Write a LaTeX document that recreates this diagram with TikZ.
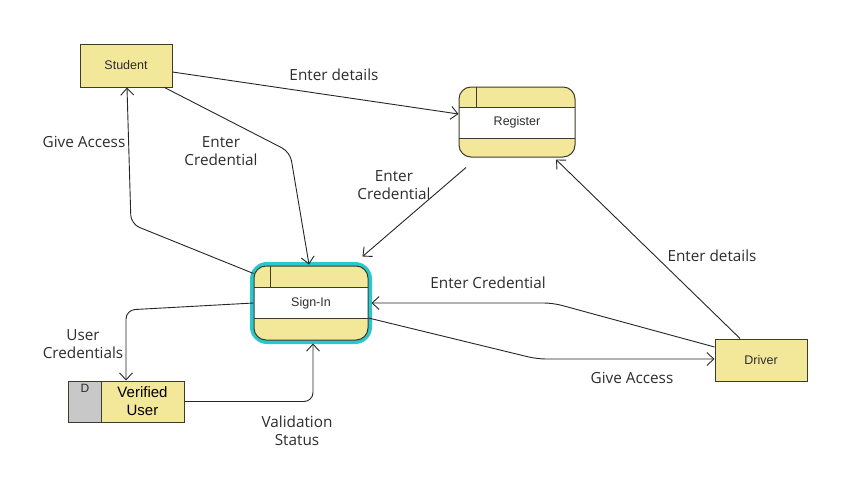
\documentclass[tikz,border=0pt]{standalone}
\usepackage{fontspec}
\setmainfont{Open Sans}
\newfontfamily\arialf{Liberation Sans}
\usetikzlibrary{arrows.meta}
\definecolor{fy}{RGB}{243,231,154}
\definecolor{bd}{RGB}{60,60,45}
\definecolor{cy}{RGB}{40,200,205}
\definecolor{gb}{RGB}{200,200,200}
\definecolor{tx}{RGB}{45,45,45}
\begin{document}
\begin{tikzpicture}[x=1pt,y=-1pt,
 ent/.style={draw=bd, line width=1pt, fill=fy, minimum width=92pt, minimum height=43pt, inner sep=0pt, font=\arialf\fontsize{12.5}{14}\selectfont, text=tx},
 procbox/.style={draw=bd, line width=1pt, rounded corners=12pt, inner sep=0pt, font=\arialf\fontsize{12.5}{14}\selectfont, text=tx},
 flow/.style={draw=black!85, line width=0.9pt, rounded corners=9pt, -{Straight Barb[length=7pt,width=13pt,line width=0.9pt]}},
 lab/.style={font=\fontsize{15.3}{18}\selectfont, text=tx, align=center, inner sep=0pt}]
\useasboundingbox (0,0) rectangle (859,493);
\fill[white] (0,0) rectangle (859,493);

% Student and Driver
\node[ent] (student) at (126,65.5) {Student};
\node[ent, minimum height=42pt] (driver) at (761,360) {Driver};

% Register process
\fill[fy, rounded corners=12pt] (459,87) rectangle (575,157);
\fill[white] (459,107) rectangle (575,138);
\draw[bd, line width=1pt] (459,107) -- (575,107) (459,138) -- (575,138) (476,87) -- (476,107);
\node[procbox, minimum width=116pt, minimum height=70pt] (reg) at (517,122) {Register};

% Sign-In process
\draw[cy, line width=4pt, rounded corners=15pt] (252,264) rectangle (370,342);
\fill[fy, rounded corners=12pt] (254,266) rectangle (368,340);
\fill[white] (254,287) rectangle (368,318);
\draw[bd, line width=1pt] (254,287) -- (368,287) (254,318) -- (368,318) (270,266) -- (270,287);
\node[procbox, minimum width=114pt, minimum height=74pt] (si) at (311,303) {Sign-In};

% Verified User data store
\node[draw=bd, line width=1pt, fill=gb, minimum width=33pt, minimum height=41pt, inner sep=0pt] (vud) at (84.5,401.5) {};
\node[draw=bd, line width=1pt, fill=fy, minimum width=83pt, minimum height=41pt, inner sep=0pt, align=center, font=\arialf\fontsize{15}{18}\selectfont, text=black] (vu) at (142.5,401.5) {Verified\\User};
\node[font=\arialf\fontsize{12}{13}\selectfont, text=tx, inner sep=0pt] (dlab) at (85,388) {D};

% Connectors
\draw[flow] ([yshift=-6.5pt]student.east) -- ([yshift=8pt]reg.west);
\draw[flow] ([xshift=-8pt]student.south east) -- (290,152) -- ([xshift=-2pt,yshift=1pt]si.north);
\draw[flow] ([yshift=-8pt]si.north west) -- (131,224) -- ([xshift=1pt]student.south);
\draw[flow] ([shift={(-51pt,-10pt)}]reg.south) -- ([shift={(-6pt,9pt)}]si.north east);
\draw[flow] ([xshift=-21pt]driver.north) -- ([shift={(39pt,-2pt)}]reg.south);
\draw[flow] ([yshift=13pt]driver.west) -- (553,303) -- ([xshift=3pt]si.east);
\draw[flow] ([yshift=-15pt]si.east) -- (537,359) -- ([yshift=1pt]driver.west);
\draw[flow] (si.west) -- (126,310) -- ([xshift=-16.5pt]vu.north);
\draw[flow] (vu.east) -- (313,401.5) -- ([shift={(2pt,-3pt)}]si.south);

% Labels
\node[lab] (l1) at (334,75) {Enter details};
\node[lab] (l2) at (221,151) {Enter\\Credential};
\node[lab] (l3) at (84,142) {Give Access};
\node[lab] (l4) at (394,185) {Enter\\Credential};
\node[lab] (l5) at (712,256) {Enter details};
\node[lab] (l6) at (488,283) {Enter Credential};
\node[lab] (l7) at (632,378) {Give Access};
\node[lab] (l8) at (83,344) {User\\Credentials};
\node[lab] (l9) at (297,431) {Validation\\Status};
\end{tikzpicture}
\end{document}
